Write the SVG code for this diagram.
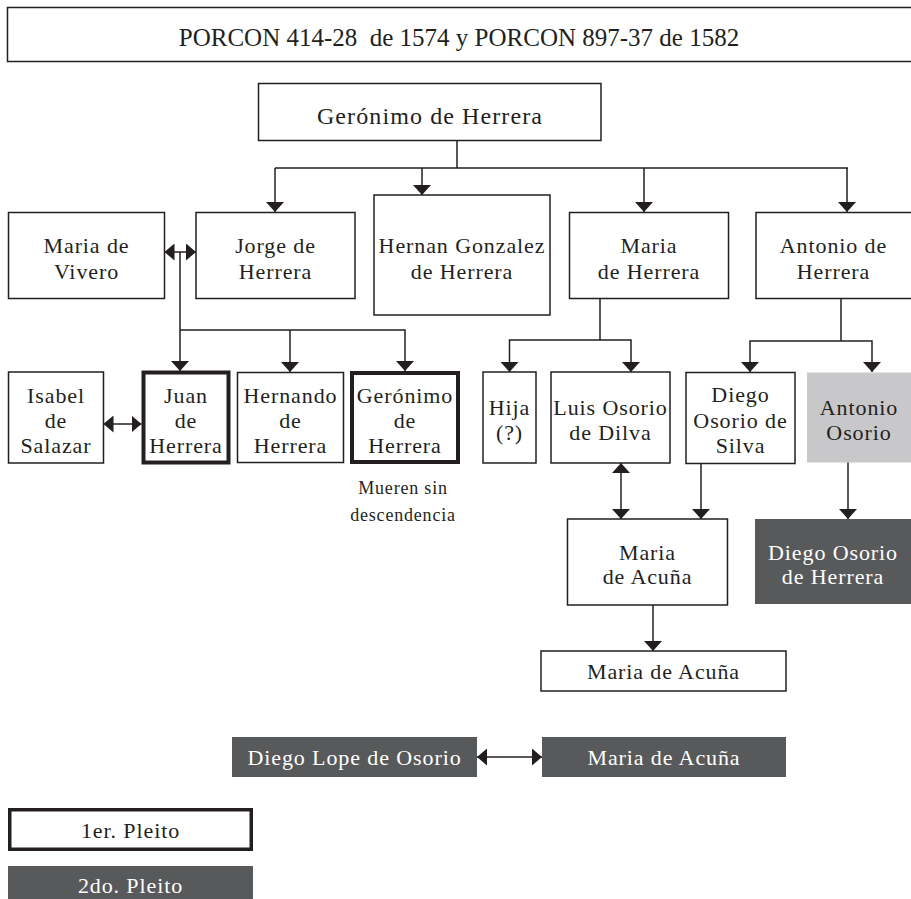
<svg xmlns="http://www.w3.org/2000/svg" width="911" height="899" viewBox="0 0 911 899">
<defs>
<marker id="ah" viewBox="0 0 10 17" refX="10" refY="8.5" markerWidth="10" markerHeight="17" markerUnits="userSpaceOnUse" orient="auto-start-reverse">
<path d="M0,0 L10,8.5 L0,17 z" fill="#231f20"/>
</marker>
<marker id="av" viewBox="0 0 10 18" refX="10" refY="9" markerWidth="10" markerHeight="18" markerUnits="userSpaceOnUse" orient="auto-start-reverse">
<path d="M0,0 L10,9 L0,18 z" fill="#231f20"/>
</marker>
</defs>
<style>
.b{fill:#fff;stroke:#231f20;stroke-width:1.5}
.k{fill:#fff;stroke:#231f20;stroke-width:4}
.g{fill:#c8c8ca;stroke:none}
.d{fill:#58595b;stroke:none}
text{font-family:"Liberation Serif","Times New Roman",serif;font-size:22px;letter-spacing:0.9px;fill:#231f20;text-anchor:middle}
.w{fill:#fff}
.t{font-size:25px;letter-spacing:0;white-space:pre}
.s{font-size:18px;letter-spacing:0.8px}
.c path{fill:none;stroke:#231f20;stroke-width:1.5}
.v{marker-end:url(#av)}
.vv{marker-start:url(#av);marker-end:url(#av)}
.hh{marker-start:url(#ah);marker-end:url(#ah)}
</style>
<rect width="911" height="899" fill="#fff"/>
<g id="title"><rect class="b" x="7.5" y="7.5" width="910" height="54"/><text class="t" x="459" y="46" xml:space="preserve">PORCON 414-28  de 1574 y PORCON 897-37 de 1582</text></g>
<g id="geronimo-root"><rect class="b" x="258.5" y="83.5" width="342.5" height="57"/><text x="430" y="124" style="font-size:24px;letter-spacing:1.1px">Gerónimo de Herrera</text></g>
<g id="maria-vivero"><rect class="b" x="8.5" y="212.5" width="156" height="86"/><text x="86.5" y="253">Maria de</text><text x="86.5" y="279">Vivero</text></g>
<g id="jorge"><rect class="b" x="196" y="212.5" width="159" height="86"/><text x="275.5" y="253">Jorge de</text><text x="275.5" y="279">Herrera</text></g>
<g id="hernan"><rect class="b" x="374" y="195" width="176" height="120"/><text x="462" y="253">Hernan Gonzalez</text><text x="462" y="279">de Herrera</text></g>
<g id="maria-herrera"><rect class="b" x="569.5" y="212.5" width="159" height="86"/><text x="649" y="253">Maria</text><text x="649" y="279">de Herrera</text></g>
<g id="antonio-herrera"><rect class="b" x="756" y="212.5" width="160" height="86"/><text x="833.5" y="253">Antonio de</text><text x="833.5" y="279">Herrera</text></g>
<g id="isabel"><rect class="b" x="8.5" y="372" width="95" height="91"/><text x="56" y="403">Isabel</text><text x="56" y="428">de</text><text x="56" y="453">Salazar</text></g>
<g id="juan"><rect class="k" x="143.5" y="372.5" width="85" height="90"/><text x="186" y="403">Juan</text><text x="186" y="428">de</text><text x="186" y="453">Herrera</text></g>
<g id="hernando"><rect class="b" x="237.5" y="372.5" width="106" height="90"/><text x="290.5" y="403">Hernando</text><text x="290.5" y="428">de</text><text x="290.5" y="453">Herrera</text></g>
<g id="geronimo-hijo"><rect class="k" x="352" y="373" width="106" height="89"/><text x="405" y="403">Gerónimo</text><text x="405" y="428">de</text><text x="405" y="453">Herrera</text><text class="s" x="403" y="494">Mueren sin</text><text class="s" x="403" y="521">descendencia</text></g>
<g id="hija"><rect class="b" x="483" y="372" width="53" height="91"/><text x="509.5" y="415">Hija</text><text x="509.5" y="440">(?)</text></g>
<g id="luis"><rect class="b" x="551" y="372" width="119" height="91"/><text x="610.5" y="415">Luis Osorio</text><text x="610.5" y="440">de Dilva</text></g>
<g id="diego-silva"><rect class="b" x="686" y="372.5" width="109" height="91"/><text x="740.5" y="402">Diego</text><text x="740.5" y="428">Osorio de</text><text x="740.5" y="453">Silva</text></g>
<g id="antonio-osorio"><rect class="g" x="807" y="372.5" width="104" height="90"/><text x="859" y="415">Antonio</text><text x="859" y="440">Osorio</text></g>
<g id="maria-acuna"><rect class="b" x="567.5" y="519" width="160" height="86"/><text x="647.5" y="560">Maria</text><text x="647.5" y="584">de Acuña</text></g>
<g id="diego-osorio-herrera"><rect class="d" x="755" y="519" width="156" height="85"/><text class="w" x="833" y="560">Diego Osorio</text><text class="w" x="833" y="584">de Herrera</text></g>
<g id="maria-acuna-2"><rect class="b" x="541" y="651" width="245" height="40"/><text x="663.5" y="679">Maria de Acuña</text></g>
<g id="diego-lope"><rect class="d" x="232" y="737" width="245" height="40"/><text class="w" x="354.5" y="765">Diego Lope de Osorio</text></g>
<g id="maria-acuna-3"><rect class="d" x="542" y="737" width="244" height="40"/><text class="w" x="664" y="765">Maria de Acuña</text></g>
<g id="legend-1"><rect class="b" x="9.75" y="809.75" width="241.5" height="39.5" style="stroke-width:3.5"/><text x="130.5" y="838">1er. Pleito</text></g>
<g id="legend-2"><rect class="d" x="8" y="866" width="245" height="40"/><text class="w" x="130.5" y="893">2do. Pleito</text></g>
<g id="connectors" class="c">
<path d="M457,141 V168 M275,168 H848"/>
<path class="v" d="M275,168 V212"/>
<path class="v" d="M422,168 V195"/>
<path class="v" d="M644,168 V212"/>
<path class="v" d="M847,168 V212"/>
<path class="hh" d="M164.5,252 H196"/>
<path class="v" d="M180,252 V371"/>
<path class="v" d="M180,330 H405 V371"/>
<path class="v" d="M290,330 V372"/>
<path class="hh" d="M103.5,424 H141.5"/>
<path d="M600,298.5 V340"/>
<path class="v" d="M600,340 H509.5 V372"/>
<path class="v" d="M600,340 H631 V372"/>
<path d="M841,298.5 V341"/>
<path class="v" d="M841,341 H750 V372"/>
<path class="v" d="M841,341 H872 V372"/>
<path class="vv" d="M621,463 V519"/>
<path class="v" d="M701,463.5 V519"/>
<path class="v" d="M848,462.5 V519"/>
<path class="v" d="M653,605 V651"/>
<path class="hh" d="M477,757 H542"/>
</g>
</svg>
